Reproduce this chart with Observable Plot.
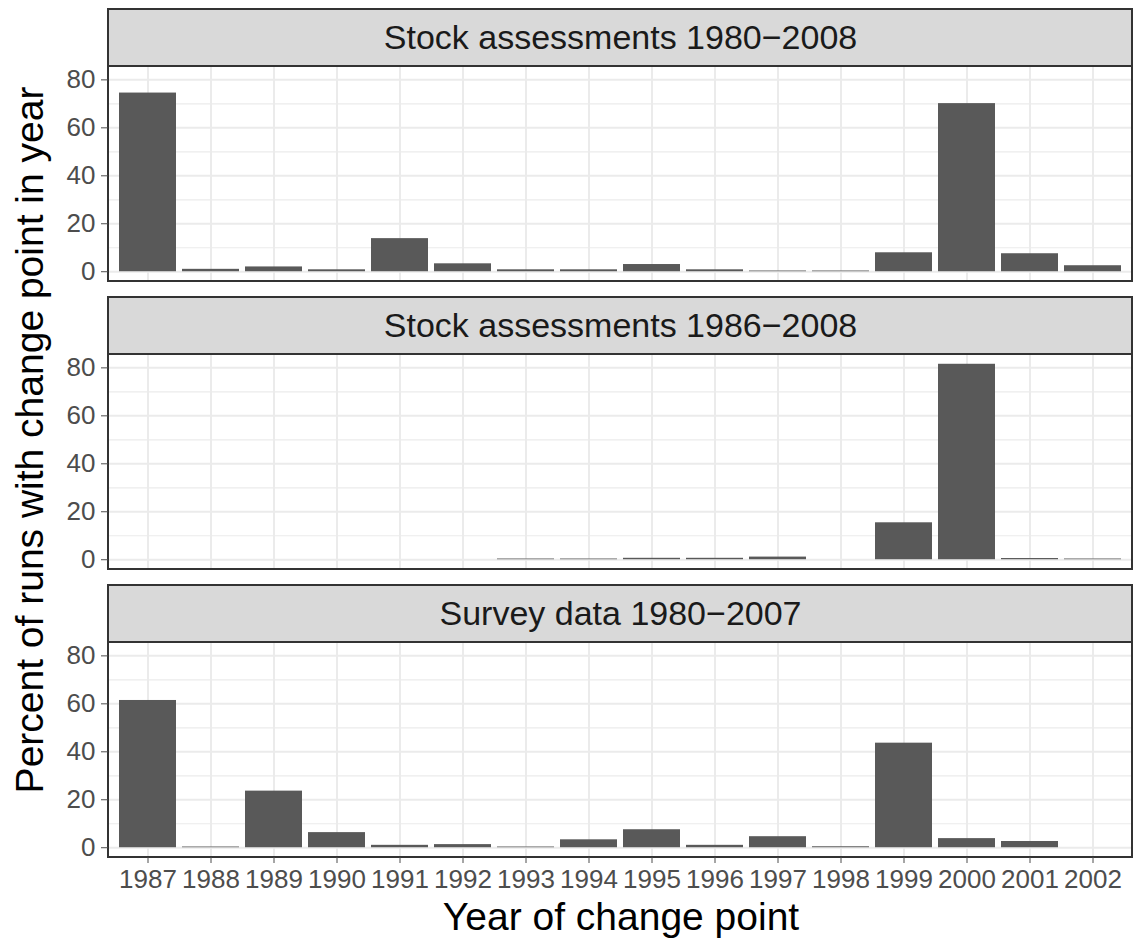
<!DOCTYPE html>
<html><head><meta charset="utf-8">
<script src="https://cdn.jsdelivr.net/npm/d3@7"></script>
<script src="https://cdn.jsdelivr.net/npm/@observablehq/plot@0.6"></script>
<style>
body{margin:0;background:#fff}
#chart{position:relative;width:1133px;height:942px}
</style>
</head><body><div id="chart"></div>
<script>
const years = ["1987","1988","1989","1990","1991","1992","1993","1994","1995","1996","1997","1998","1999","2000","2001","2002"];
const panels = ["Stock assessments 1980−2008", "Stock assessments 1986−2008", "Survey data 1980−2007"];
const stock1980 = [74.5, 1.0, 2.0, 0.8, 13.8, 3.3, 0.8, 0.8, 3.0, 0.8, 0.3, 0.3, 7.9, 70.1, 7.5, 2.5];
const stock1986 = [0, 0, 0, 0, 0, 0, 0.3, 0.3, 0.6, 0.6, 1.1, 0, 15.4, 81.5, 0.5, 0.3];
const survey1980 = [61.4, 0.3, 23.6, 6.3, 1.0, 1.3, 0.3, 3.3, 7.5, 1.0, 4.6, 0.4, 43.6, 3.8, 2.6, 0];
const yTicks = [0, 20, 40, 60, 80];
const yMinor = [10, 30, 50, 70];

const series = [stock1980, stock1986, survey1980];
const rows = [];
series.forEach((vals, i) => vals.forEach((v, j) => rows.push({panel: panels[i], year: years[j], value: v})));

const maxVal = d3.max(rows, d => d.value);
const yLo = -0.05 * maxVal, yHi = maxVal * 1.05;
const span = yHi - yLo;
const yTop = yHi + span * 57 / 215;
const font = "'Liberation Sans', Helvetica, Arial, sans-serif";

const chart = Plot.plot({
  width: 1133, height: 942,
  marginLeft: 108, marginRight: 1, marginTop: 8, marginBottom: 85,
  style: {fontFamily: font, background: "#fff"},
  x: {type: "band", domain: years, paddingInner: 0.1, paddingOuter: 0.15, label: null},
  y: {domain: [yLo, yTop], label: null},
  fy: {domain: panels, axis: null, paddingInner: 0.057, paddingOuter: 0, label: null},
  marks: [
    Plot.ruleY(yMinor, {stroke: "#EBEBEB", strokeWidth: 1.2}),
    Plot.ruleY(yTicks, {stroke: "#EBEBEB", strokeWidth: 2}),
    Plot.ruleX(years, {x: d => d, y1: yLo, y2: yHi, stroke: "#EBEBEB", strokeWidth: 2}),
    Plot.barY(rows, {x: "year", y: "value", fy: "panel", fill: "#595959"}),
    Plot.rect([0], {y1: yLo, y2: yHi, fill: "none", stroke: "#333333", strokeWidth: 2}),
    Plot.rect(panels, {fy: d => d, y1: yHi, y2: yTop, fill: "#D9D9D9", stroke: "#333333", strokeWidth: 2}),
    Plot.text(panels, {fy: d => d, y: (yHi + yTop) / 2, text: d => d, fontSize: 34, fill: "#1A1A1A", frameAnchor: "middle"}),
    Plot.axisY({ticks: yTicks, tickSize: 7, tickPadding: 6, fontSize: 26, color: "#4D4D4D", label: null}),
    Plot.axisX({tickSize: 6, tickPadding: 6, fontSize: 26, color: "#4D4D4D", label: null})
  ]
});
document.getElementById("chart").appendChild(chart);

const svg = d3.select(chart);
svg.append("text")
  .attr("transform", "translate(43,440) rotate(-90)")
  .attr("text-anchor", "middle")
  .attr("font-family", font).attr("font-size", 39).attr("fill", "#000")
  .text("Percent of runs with change point in year");
svg.append("text")
  .attr("x", 621).attr("y", 930)
  .attr("text-anchor", "middle")
  .attr("font-family", font).attr("font-size", 39).attr("fill", "#000")
  .text("Year of change point");
</script>
</body></html>
